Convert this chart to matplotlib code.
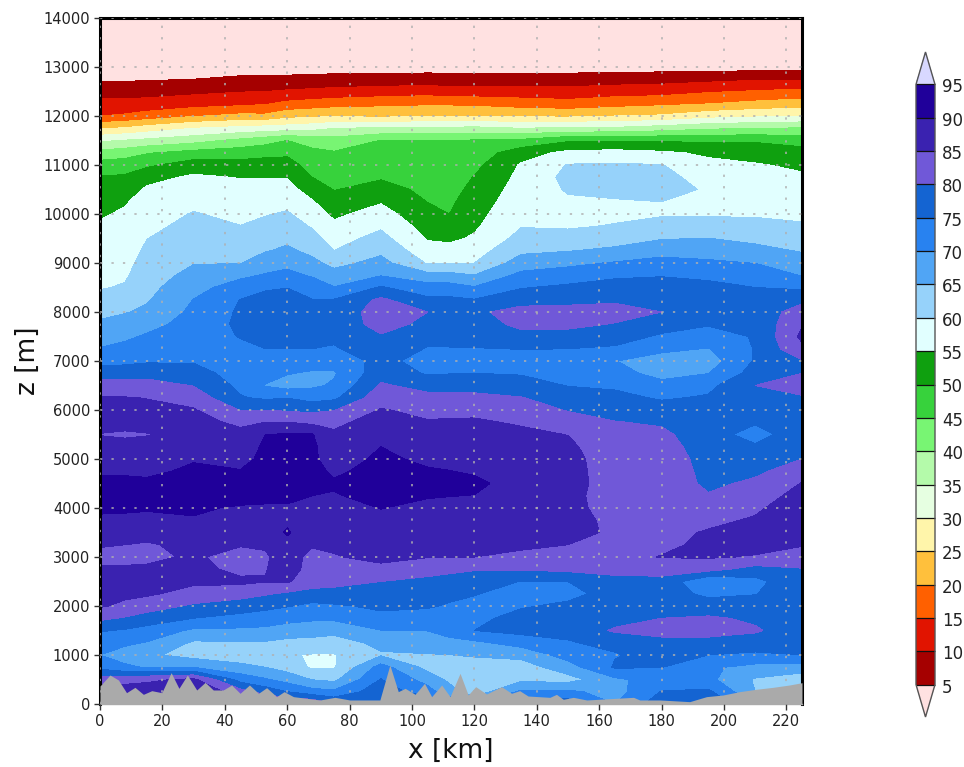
import numpy as np
import matplotlib
matplotlib.use("Agg")
import matplotlib.pyplot as plt
from matplotlib.colors import ListedColormap, BoundaryNorm
from matplotlib.transforms import ScaledTranslation

z_rows = [14000, 13000, 12750, 12500, 12250, 12000, 11750, 11500, 11250, 11000, 10750, 10500, 10250, 10000,
          9750, 9500, 9250, 9000, 8750, 8500, 8250, 8000, 7750, 7500, 7250, 7000, 6750, 6500, 6250, 6000,
          5750, 5500, 5250, 5000, 4750, 4500, 4250, 4000, 3750, 3500, 3250, 3000, 2750, 2500, 2250, 2000,
          1750, 1500, 1250, 1000, 750, 500, 250, 0]
x_cols = [0, 8, 15, 30, 45, 53, 60, 68, 75, 90, 105, 112, 120, 135, 150, 165, 180, 195, 210, 225]

rh_000 = [1,2,4.4,7.8,11.4,15,24.4,34.2,41.7,47.1,50.3,51.7,53.1,54.5,55.6,56.4,57.2,58,58.8,59.7,61.4,63.6,65.9,68,70.2,73.3,77.4,82.1,85.4,86.5,88,84.7,88,88.5,89.3,91.5,93,91.5,88.5,87,85.5,83.3,85.8,86.5,86.4,85.5,81,75.4,72.6,70,73.5,82.5,88,88]
rh_008 = [1,2,4.4,7.9,11.5,15.7,25.5,35.3,42.7,47.6,50.7,52.7,54.6,55.6,56.4,57.1,57.9,58.6,59.4,60.4,62.6,64.7,66.9,69.1,71.3,73.8,77.6,82.3,85.2,86.3,88.5,83.5,88.5,88.5,89.3,91.2,93,91,88.6,87,85,83.3,85.8,86.5,86,84,79.5,74.5,71,67.5,71,83,88,88]
rh_015 = [1,2,4.6,8.1,11.8,17,27.1,36.2,44.6,49.1,53.4,55.7,56.7,57.8,58.8,59.9,60.8,61.7,62.6,63.5,64.5,66,68.3,70.6,72.5,74.4,78.2,82,84.9,85.8,88,84.6,88,88,89.2,90.8,92.5,90.5,88.7,86.8,84.5,84,85.7,86.5,85.6,82.7,77.5,73.3,69.7,66,69.6,84,88,88]
rh_030 = [1,3,5,8.9,12.9,19.6,30,38.2,46.7,52.5,55.8,57.3,58.9,60.3,61.4,62.6,63.7,64.8,66.5,68.4,70.1,71.1,72,72.9,73.8,74.6,76.8,79.8,83,85.4,86.3,87.6,88.7,89.7,90.7,91.7,92.5,90.9,89.5,88,86.3,85.6,86.5,85.7,83.6,79.1,75,69.1,64.3,63,69.9,86,90,90]
rh_045 = [1,3,5.8,9.8,13.8,21.3,31.4,41.3,47.7,51.8,54.8,56.2,57.5,58.8,60.1,61.6,63.2,64.8,69,72.2,75.1,75.7,75.9,75.2,74,73,73,73.8,75.4,79.8,84.2,86.1,87.4,88.8,90.2,91.8,92.4,89.3,87.9,86.6,85.3,83.4,83.7,86,82,77.4,73.4,69.1,64.4,62,66.5,73,82,88]
rh_053 = [1,3,5.9,10,14.6,21,32.1,43,48.6,52,54.8,56.5,58.1,59.7,61.3,63,64.7,67.7,70.4,74.4,76.5,77.2,77.2,76.2,75,73,72,69.7,74.2,80,85,90,90.8,91,92,92,91,89.5,88.3,87,85.6,84.3,84.8,85.2,80.5,76.3,72.6,68.8,64.5,62,65,70.5,78,87]
rh_060 = [1,3,6,10.6,16.2,23.2,32.5,45,49,52,54.8,56.8,58.7,60.5,62.2,63.9,65.9,68.5,71.5,74.9,77,78.5,79,77.5,75,72.6,70.3,68,74.8,79.4,85,90.4,91.5,92.5,92.8,92.3,91,89.5,89,90.6,88.5,87.5,87,85.5,79.2,75.3,71.5,67.8,63.5,60.4,63,68,75,85]
rh_068 = [1,3,6.3,11.1,17,24,33.3,43,46.2,48.1,50,52.8,55.4,57.5,59.6,61.7,63.8,66.3,69.4,73.3,75.1,77,78,77,75,72.5,69.3,69.2,73,78.9,83.9,90.3,91,91,92,91.5,90,88.6,87.6,86.6,85.5,83.5,83.3,82.5,78.1,73.8,70.8,67.1,63.3,59.7,59.3,64.8,72,85]
rh_075 = [1,3,6.6,11.6,17.7,24.6,34.9,42.1,45.4,46.9,48.3,49.8,51.8,54,56.1,58.1,60,63.5,66.9,70.2,75.2,76.5,77.3,76,74.5,72,69.5,70.6,74,79.8,83.8,85.8,86.8,87.5,89,90.8,89.5,88.4,87.5,86.5,85.5,84.8,83.3,81.2,78.6,74.3,70.9,66.4,62.9,59.7,59.5,63.8,71,80]
rh_090 = [1,3,6.9,12.2,18.7,23.8,35.6,45.1,46.6,48,49.5,51.8,54.6,57,59.3,61.6,63.9,66.6,69.7,75.5,81,82.5,81.5,79.6,78,76.5,78,80.7,83,85.3,87.2,88.5,90,91,92,93,92,90.1,89,88,86.9,85.8,84.2,80,78,76,73.5,69.9,66.2,64.5,72,75.2,78,80]
rh_105 = [1,3,7.1,12.9,19,25,35.6,45.1,46.2,47.1,48,48.9,49.9,51.4,53,54.6,57,59.6,66.6,72.1,76,80,79,76.5,74.7,73,74.5,78.2,81.5,83.9,85.3,86.6,87.8,89,90.5,92.6,90.3,89,88.2,87.1,86.2,85.2,81.5,79,77.2,75.5,73.1,70.1,67.5,64.7,63.5,68,72,80]
rh_112 = [1,3,7,11.9,18.9,25,35.9,45.2,46,46.8,47.6,48.4,49.2,50,52,54.1,56.6,59.5,66.6,72,76,77.4,78,76.8,74.7,73,74.8,78.2,81.4,83.9,85.5,86.6,87.7,88.8,90.1,91.8,90.1,88.8,87.9,86.8,86.1,85.1,81,78.3,76.2,74.5,73.4,72.5,68,64.9,63,64,67,75]
rh_120 = [1,3,6.8,12.1,18.7,25,36.3,45.4,47,48.7,50.2,51.2,52.3,53.3,54.3,55.6,57.8,60,65.1,70.4,75.2,79,78,77,74.8,73,75,78.2,81.2,83.9,85.6,86.6,87.6,88.6,89.5,91,89.9,88.7,87.6,86.5,86,85,80.3,77.6,75.3,73.5,73.7,75,69,65.5,62.5,60.5,62,70]
rh_135 = [1,3,6.6,12.1,17.5,24.2,35,46.1,52.9,55.5,56.3,57.2,58,58.9,59.8,61.6,64,67.4,71.3,74.7,77.8,82,81,78.7,75.1,73.5,74.6,77.2,80.2,82.4,84.5,86,87,87.7,88,88,87.8,87.3,86.7,86,85.4,84.5,80.4,74.8,73,74.5,76.7,76.5,72,66.5,62.5,63.9,71,78]
rh_150 = [1,3,7,11.9,16.7,24,35.8,49.3,56.2,60.3,61.3,60.4,59.4,59,59.5,61.7,64.8,68.9,72.3,76,78.8,81.5,80.9,78.6,75,73.8,73.5,74.8,77.7,79.7,82.3,84.9,85.8,86.2,86.2,86.2,86.2,86.5,86.5,85.6,85,83.4,81.2,75,73.5,76,77.5,76,74.7,72,67.8,63,71,78]
rh_165 = [1,3,7.4,12.8,17.9,25,35.8,49.7,56.7,60.5,61.2,60.9,59.7,59,60.3,62.9,66,70.4,74.2,76.9,79.4,81.5,79.8,77.1,74.3,70.1,72.1,74.3,76.2,78.2,80.2,81.5,82.3,83,83.3,83.5,83,83,84,84.7,84,83.5,81.5,78.5,77,76.5,78,80.7,76,74.7,75.5,69,68,70]
rh_180 = [1,3,8,13,18.9,25.6,37.5,49.4,55.8,60.2,61.5,61.6,60,59.4,62.1,64.7,68.3,71.6,74.7,77.2,78.5,80,77,74.3,71,68,68,71.8,74.5,77,79.4,81,82,83,83.5,83.5,83.5,83.5,83.5,83.7,84,85.2,82,78.5,77.5,78,80,81.5,78.7,76.5,75.1,72.5,75.2,78]
rh_195 = [1,3,8.6,14.5,19.9,28,39.2,49.2,54.2,56.2,58,59.5,59.2,59.4,62.2,65.1,67.9,70.8,74.2,76,77,77.5,75.4,72.7,69.8,67.5,69.9,73.7,75.5,76.3,76.8,77.2,77.6,78,78.4,78.9,80.4,82,84,85.4,86,85.4,81.7,70.3,73.8,77.5,80.6,81.5,78.7,75,70.8,71.2,76,80]
rh_210 = [1,3,9.5,15.4,21.3,29.1,40,49.4,53,55.4,56.4,57.5,58.5,59.5,61.3,63.7,66.6,69.9,73.6,75,75.5,77.5,76,75.4,75.3,75.5,77,80,78,76.5,75.5,73,75.7,77.5,79,81,82.5,84.2,85.5,86.3,86.3,84.7,78,73.5,74.8,77,79.3,80.5,78,74,68.5,64.5,65,70]
rh_225 = [1,3,9.5,16.4,22.3,30,40.3,48,51.9,54.1,55.7,56.8,58,59.1,60.5,62.5,64.6,67.5,69.7,74.1,79,81.9,84.6,86,84,79.5,80,82,79.5,77.8,77.5,78,78.8,80,82.7,85.2,86.8,87.9,88.8,90,85.3,83,79.7,79,78.3,78,77.8,77.5,76.3,75,67.6,62,62,70]

terrain_x = [0, 3.2, 5.9, 8.5, 11.2, 13.9, 16.6, 19.8, 22.8, 25.3, 28, 31, 33.7, 36.3, 39.5, 42.2, 44.9, 47.9, 50.8, 53.4,
             56.6, 59, 62, 66.2, 70.5, 75.3, 80.1, 89.7, 92.9, 95.6, 97.8, 101, 104, 106.3, 109.5, 112.2, 115.4, 118, 120.4,
             123.9, 128.7, 131.9, 134.5, 137.2, 144.2, 146.3, 148.5, 151.7, 156, 171, 173, 179.5, 189, 194.4, 199.7, 205,
             210.3, 215.7, 221, 225]
terrain_z = [367, 592, 490, 231, 340, 197, 272, 231, 639, 320, 592, 286, 442, 286, 286, 388, 218, 388, 218, 333,
             150, 252, 150, 116, 82, 136, 82, 82, 796, 252, 320, 197, 422, 150, 388, 150, 626, 184, 354,
             204, 354, 218, 272, 163, 136, 197, 95, 136, 82, 136, 82, 82, 48, 150, 184, 252,
             300, 340, 388, 435]

levels = list(range(5, 100, 5))
band_colors = ['#a50000', '#e11400', '#ff6000', '#ffc03c', '#fff5aa', '#e6ffe1', '#b4faaa', '#78f573', '#37d23c',
               '#0fa00f', '#e1ffff', '#96d2fa', '#50a5f5', '#2882f0', '#1464d2', '#7058d8', '#3a22b0', '#20009a']
under_color = '#ffe1e1'
over_color = '#d8d8ff'
tick_x = list(range(0, 221, 20))
tick_z = list(range(0, 14001, 1000))

Z = np.column_stack([rh_000, rh_008, rh_015, rh_030, rh_045, rh_053, rh_060, rh_068, rh_075, rh_090, rh_105, rh_112,
                     rh_120, rh_135, rh_150, rh_165, rh_180, rh_195, rh_210, rh_225])

W, H = 964, 767
fig = plt.figure(figsize=(W / 100, H / 100), dpi=100, facecolor='white')
ax = fig.add_axes([100 / W, 1 - 704 / H, 702 / W, 686 / H])
cmap = ListedColormap(band_colors)
cmap.set_under(under_color)
cmap.set_over(over_color)
norm = BoundaryNorm(levels, cmap.N)
cf = ax.contourf(x_cols, z_rows, Z, levels=levels, cmap=cmap, norm=norm, extend='both')
ax.set_xlim(0, 225)
ax.set_ylim(0, 14000)
ax.set_xticks(tick_x)
ax.set_yticks(tick_z)
ax.set_axisbelow(False)
ax.grid(True, color='#b0b0b0', lw=1.1, linestyle=(0, (1.5, 6)), zorder=2)
ax.fill_between(terrain_x, 0, terrain_z, color='#aaaaaa', lw=0, zorder=3)
for s in ['top', 'left', 'right']:
    ax.spines[s].set_linewidth(2.2)
    ax.spines[s].set_color('black')
ax.spines['bottom'].set_color('#aaaaaa')
ax.spines['bottom'].set_linewidth(1.0)
ax.tick_params(axis='both', length=4, width=1, color='#333333', labelsize=10.5, labelcolor='#222222', pad=3)
ax.set_xlabel('x [km]', fontsize=19, labelpad=7, color='#111111')
ax.set_ylabel('z [m]', fontsize=19, labelpad=2, color='#111111')

cax = fig.add_axes([916 / W, 1 - 717 / H, 19 / W, 665 / H])
cb = fig.colorbar(cf, cax=cax, extend='both', extendfrac=0.054, drawedges=True, ticks=levels)
cb.dividers.set_color('#111111')
cb.dividers.set_linewidth(0.9)
cb.outline.set_edgecolor('#555555')
cb.outline.set_linewidth(1.0)
cb.ax.tick_params(length=0, labelsize=12, pad=5, labelcolor='#222222')
shift = ScaledTranslation(0, -3 / 100, fig.dpi_scale_trans)
for lab in cb.ax.get_yticklabels():
    lab.set_verticalalignment('center')
    lab.set_transform(lab.get_transform() + shift)

fig.savefig('out.png', dpi=100)
